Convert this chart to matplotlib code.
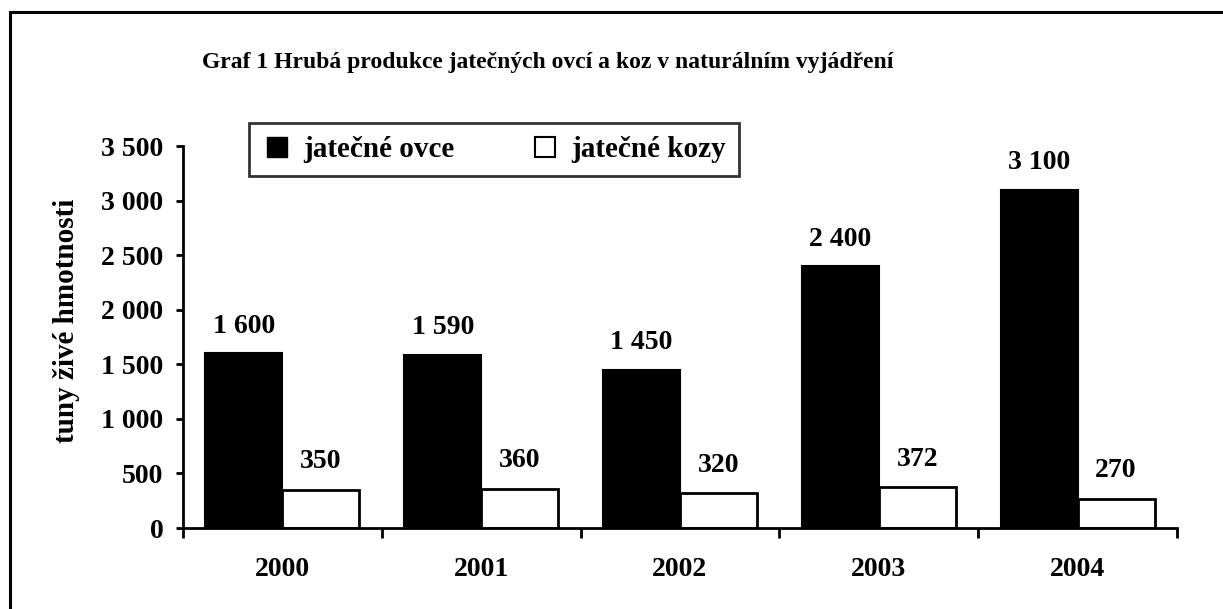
import numpy as np
import matplotlib.pyplot as plt
from matplotlib.lines import Line2D

years = ["2000", "2001", "2002", "2003", "2004"]
ovce = [1600, 1590, 1450, 2400, 3100]
kozy = [350, 360, 320, 372, 270]
ovce_labels = ["1 600", "1 590", "1 450", "2 400", "3 100"]
kozy_labels = ["350", "360", "320", "372", "270"]
yticks = [0, 500, 1000, 1500, 2000, 2500, 3000, 3500]
ytick_labels = ["0", "500", "1 000", "1 500", "2 000", "2 500", "3 000", "3 500"]

plt.rcParams['font.family'] = ['Liberation Serif', 'DejaVu Serif']
plt.rcParams['font.weight'] = 'bold'
fs = 20

fig = plt.figure(figsize=(12.23, 6.09), dpi=100)
ax = fig.add_axes([0.1496, 0.133, 0.9624 - 0.1496, 0.760 - 0.133])

x = np.arange(len(years))
w = 0.387
ax.bar(x - w / 2, ovce, w, color='black', edgecolor='black', linewidth=1.5)
ax.bar(x + w / 2, kozy, w, color='white', edgecolor='black', linewidth=2)

for i in range(len(years)):
    ax.annotate(ovce_labels[i], (x[i] - w / 2, ovce[i]), xytext=(0, 27),
                textcoords='offset pixels', ha='center', va='center',
                fontsize=fs, fontweight='bold')
    ax.annotate(kozy_labels[i], (x[i] + w / 2, kozy[i]), xytext=(0, 28),
                textcoords='offset pixels', ha='center', va='center',
                fontsize=fs, fontweight='bold')

ax.set_xlim(-0.5, len(years) - 0.5)
ax.set_ylim(0, 3500)
ax.set_yticks(yticks)
ax.set_yticklabels(ytick_labels, fontsize=fs, fontweight='bold')
ax.set_xticks(np.arange(len(years) + 1) - 0.5)
ax.set_xticklabels([])
ax.set_xticks(x, minor=True)
ax.set_xticklabels(years, minor=True, fontsize=fs, fontweight='bold')
ax.tick_params(axis='x', which='minor', length=0, pad=21)
ax.tick_params(axis='x', which='major', direction='out', length=7, width=2)
ax.tick_params(axis='y', direction='out', length=5, width=2, pad=9)

for s in ['top', 'right']:
    ax.spines[s].set_visible(False)
for s in ['left', 'bottom']:
    ax.spines[s].set_linewidth(2)

ax.set_ylabel("tuny živé hmotnosti", fontsize=21, fontweight='bold')
ax.yaxis.set_label_coords(-0.104, 0.542)

fig.text(0.448, 0.898, "Graf 1 Hrubá produkce jatečných ovcí a koz v naturálním vyjádření",
         ha='center', va='center', fontsize=17, fontweight='bold')

handles = [
    Line2D([], [], marker='s', color='none', markerfacecolor='black',
           markeredgecolor='black', markersize=14, label='jatečné ovce'),
    Line2D([], [], marker='s', color='none', markerfacecolor='white',
           markeredgecolor='black', markersize=14, markeredgewidth=1.5,
           label='jatečné kozy'),
]
leg = fig.legend(handles=handles, loc='center', bbox_to_anchor=(0.404, 0.754),
                 ncol=2, frameon=True, fancybox=False, edgecolor='black',
                 prop={'size': 21, 'weight': 'bold'}, handlelength=1.0,
                 handletextpad=0.4, columnspacing=2.6, borderpad=0.45,
                 borderaxespad=0)
leg.get_frame().set_linewidth(2)

# figure border (top and left edges only visible)
fig.add_artist(Line2D([10 / 1223, 1], [1 - 12 / 609, 1 - 12 / 609],
                      transform=fig.transFigure, color='black', linewidth=2.2))
fig.add_artist(Line2D([10 / 1223, 10 / 1223], [0, 1 - 12 / 609],
                      transform=fig.transFigure, color='black', linewidth=2.2))

fig.savefig("out.png", dpi=100)
